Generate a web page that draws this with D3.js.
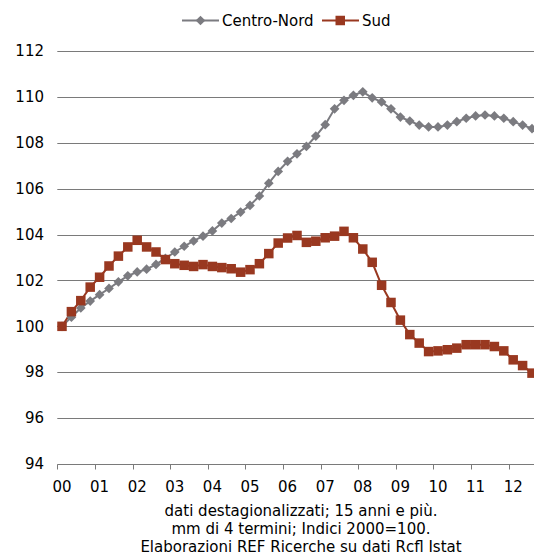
<!DOCTYPE html>
<html>
<head>
<meta charset="utf-8">
<script src="https://cdn.jsdelivr.net/npm/d3@7"></script>
<style>
  html, body { margin: 0; padding: 0; background: #fff; }
  svg { display: block; font-family: "DejaVu Sans", Verdana, sans-serif; }
</style>
</head>
<body>
<div id="chart"></div>
<script>
// Quarterly, 2000Q1 .. 2012Q3
const quarters = [];
for (let y = 2000; y <= 2012; y++) for (let q = 1; q <= 4; q++) if (!(y === 2012 && q === 4)) quarters.push(y + "Q" + q);

const yearLabels = ["00","01","02","03","04","05","06","07","08","09","10","11","12"];
const yTicks = [94, 96, 98, 100, 102, 104, 106, 108, 110, 112];

const centroNord = [
  100.00, 100.40, 100.80, 101.10, 101.38, 101.65, 101.94, 102.20, 102.37, 102.49, 102.70, 102.96,
  103.24, 103.49, 103.72, 103.93, 104.16, 104.50, 104.70, 104.98, 105.27, 105.68, 106.24, 106.75,
  107.19, 107.52, 107.84, 108.29, 108.79, 109.48, 109.85, 110.07, 110.22, 109.96, 109.78, 109.48,
  109.12, 108.95, 108.77, 108.69, 108.69, 108.77, 108.92, 109.07, 109.17, 109.21, 109.17, 109.07,
  108.92, 108.77, 108.62
];
const sud = [
  100.00, 100.64, 101.12, 101.71, 102.14, 102.63, 103.06, 103.46, 103.75, 103.46, 103.24, 102.91,
  102.73, 102.66, 102.61, 102.69, 102.61, 102.56, 102.51, 102.36, 102.47, 102.73, 103.17, 103.63,
  103.85, 103.96, 103.66, 103.71, 103.86, 103.93, 104.14, 103.86, 103.37, 102.79, 101.79, 101.04,
  100.27, 99.64, 99.27, 98.90, 98.93, 98.98, 99.05, 99.20, 99.20, 99.20, 99.12, 98.93,
  98.54, 98.29, 97.96
];
const seriesNames = ["Centro-Nord", "Sud"];
const notes = [
  "dati destagionalizzati; 15 anni e più.",
  "mm di 4 termini; Indici 2000=100.",
  "Elaborazioni REF Ricerche su dati Rcfl Istat"
];

const W = 534, H = 556;
const colCN = "#7b7b80", colSud = "#993820";

const svg = d3.select("#chart").append("svg").attr("width", W).attr("height", H);

const x = d3.scaleBand().domain(quarters).range([57.3, 57.3 + quarters.length * 9.4]).padding(0);
const y = d3.scaleLinear().domain([94, 112]).range([464, 51]);
const cx = q => x(q) + x.bandwidth() / 2;

// gridlines
svg.append("g").selectAll("line").data(yTicks.filter(v => v !== 94)).join("line")
  .attr("x1", 57.3).attr("x2", W)
  .attr("y1", d => Math.round(y(d)) + 0.5).attr("y2", d => Math.round(y(d)) + 0.5)
  .attr("stroke", "#7a7a7a").attr("stroke-width", 1);

// y labels
svg.append("g").selectAll("text").data(yTicks).join("text")
  .attr("x", 44).attr("y", d => y(d)).attr("dy", "0.35em")
  .attr("text-anchor", "end").attr("font-size", 15).attr("fill", "#000")
  .text(d => d);

// x axis line
const axY = Math.round(y(94)) + 0.5;
svg.append("line").attr("x1", 57.3).attr("x2", W).attr("y1", axY).attr("y2", axY)
  .attr("stroke", "#7a7a7a").attr("stroke-width", 1);
const yearQs = quarters.filter((q, i) => i % 4 === 0);
svg.append("g").selectAll("line").data(yearQs).join("line")
  .attr("x1", d => Math.round(x(d)) + 0.5).attr("x2", d => Math.round(x(d)) + 0.5)
  .attr("y1", axY).attr("y2", axY + 5)
  .attr("stroke", "#7a7a7a").attr("stroke-width", 1);
svg.append("g").selectAll("text").data(yearQs).join("text")
  .attr("x", d => cx(d)).attr("y", 487).attr("dy", "0.35em")
  .attr("text-anchor", "middle").attr("font-size", 15).attr("fill", "#000")
  .text((d, i) => yearLabels[i]);

// lines
const line = d3.line().x((d, i) => cx(quarters[i])).y(d => y(d));
svg.append("path").datum(centroNord).attr("d", line)
  .attr("fill", "none").attr("stroke", colCN).attr("stroke-width", 2);
svg.append("path").datum(sud).attr("d", line)
  .attr("fill", "none").attr("stroke", colSud).attr("stroke-width", 2);

// markers
const diamond = d3.symbol().type(d3.symbolDiamond2).size(60);
svg.append("g").selectAll("path").data(centroNord).join("path")
  .attr("d", diamond)
  .attr("transform", (d, i) => `translate(${cx(quarters[i])},${y(d)})`)
  .attr("fill", colCN);
svg.append("g").selectAll("rect").data(sud).join("rect")
  .attr("x", (d, i) => cx(quarters[i]) - 4.75).attr("y", d => y(d) - 4.75)
  .attr("width", 9.5).attr("height", 9.5).attr("fill", colSud);

// legend
const lg = svg.append("g");
lg.append("line").attr("x1", 182).attr("x2", 219).attr("y1", 20.5).attr("y2", 20.5)
  .attr("stroke", colCN).attr("stroke-width", 2);
lg.append("path").attr("d", diamond).attr("transform", "translate(200.5,20.5)").attr("fill", colCN);
lg.append("text").attr("x", 222).attr("y", 20.5).attr("dy", "0.35em").attr("font-size", 15).text(seriesNames[0]);
lg.append("line").attr("x1", 322).attr("x2", 359).attr("y1", 20.5).attr("y2", 20.5)
  .attr("stroke", colSud).attr("stroke-width", 2);
lg.append("rect").attr("x", 335.5).attr("y", 15.75).attr("width", 9.5).attr("height", 9.5).attr("fill", colSud);
lg.append("text").attr("x", 362).attr("y", 20.5).attr("dy", "0.35em").attr("font-size", 15).text(seriesNames[1]);

// notes
svg.append("g").selectAll("text").data(notes).join("text")
  .attr("x", 301).attr("y", (d, i) => 511 + i * 18).attr("dy", "0.35em")
  .attr("text-anchor", "middle").attr("font-size", 15).attr("fill", "#000")
  .text(d => d);
</script>
</body>
</html>
